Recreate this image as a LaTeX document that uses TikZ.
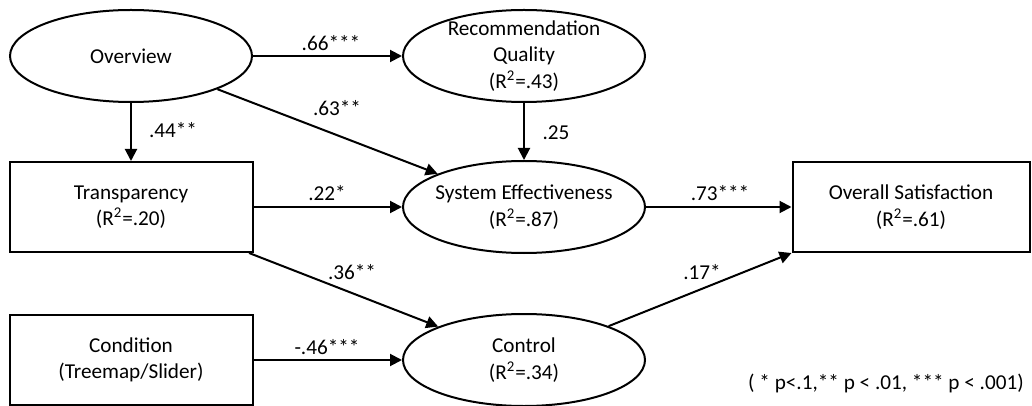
\documentclass[tikz,border=0pt]{standalone}
\usepackage{fontspec}
\setmainfont{Carlito}
\usepackage{tikz}
\usetikzlibrary{arrows.meta,shapes.geometric}
\tikzset{
  node-latent/.style={draw,line width=1pt,ellipse,inner xsep=-30pt,inner ysep=-20pt,
    minimum width=121pt,minimum height=46pt,align=center},
  node-box/.style={draw,line width=1pt,rectangle,inner sep=0pt,
    minimum width=121.5pt,minimum height=45pt,align=center},
  arrow/.style={-{Triangle[length=6pt,width=6pt]},line width=1pt},
  coef/.style={inner sep=0pt},
}
\begin{document}
\begin{tikzpicture}[x=0.5pt,y=-0.5pt,font=\fontsize{10.6}{13.3}\selectfont]
  \useasboundingbox (0,0) rectangle (1032,406);
  \node[node-latent] (ov) at (131,56) {Overview};
  \node[node-latent] (rq) at (524,56) {Recommendation\\Quality\\(R\textsuperscript{2}=.43)};
  \node[node-latent] (se) at (524,207) {System Effectiveness\\(R\textsuperscript{2}=.87)};
  \node[node-box]    (tr) at (131,207) {Transparency\\(R\textsuperscript{2}=.20)};
  \node[node-box]    (cd) at (131,360) {Condition\\(Treemap/Slider)};
  \node[node-latent] (ct) at (524,360) {Control\\(R\textsuperscript{2}=.34)};
  \node[node-box,minimum width=118.5pt] (os) at (911,207) {Overall Satisfaction\\(R\textsuperscript{2}=.61)};
  \draw[arrow] (ov) -- (rq);
  \draw[arrow] (ov) -- (se);
  \draw[arrow] (ov) -- (tr);
  \draw[arrow] (rq) -- (se);
  \draw[arrow] (tr) -- (se);
  \draw[arrow] (tr) -- (ct);
  \draw[arrow] (cd) -- (ct);
  \draw[arrow] (se) -- (os);
  \draw[arrow] (ct) -- (os.south west);
  % path coefficients
  \node[coef] (c66) at (331,43)  {.66***};
  \node[coef] (c63) at (337,108) {.63**};
  \node[coef] (c44) at (173,130) {.44**};
  \node[coef] (c25) at (556,133) {.25};
  \node[coef] (c22) at (327,193) {.22*};
  \node[coef] (c36) at (352,272) {.36**};
  \node[coef] (c46) at (327,347) {-.46***};
  \node[coef] (c73) at (720,193) {.73***};
  \node[coef] (c17) at (702,272) {.17*};
  \node[coef] (note) at (886,383) {( * p<.1,** p < .01, *** p < .001)};
\end{tikzpicture}
\end{document}
